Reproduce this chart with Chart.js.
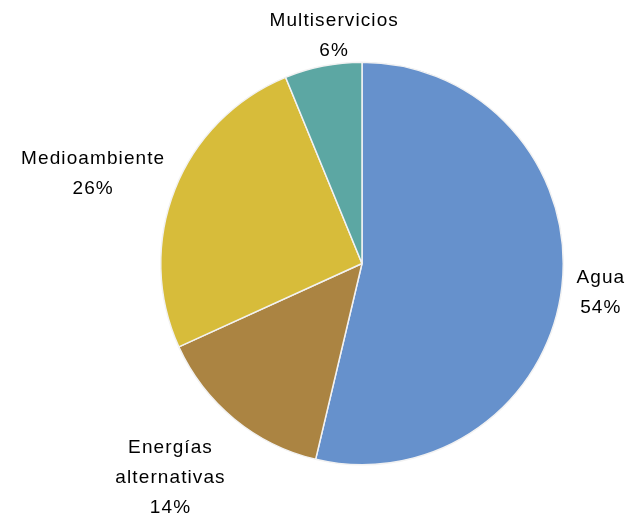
<!DOCTYPE html>
<html>
<head>
<meta charset="utf-8">
<script src="https://cdn.jsdelivr.net/npm/chart.js@4/dist/chart.umd.min.js"></script>
<style>
  html, body { margin: 0; padding: 0; background: #fff; }
  #wrap { width: 634px; height: 519px; }
</style>
</head>
<body>
<div id="wrap"><canvas id="myChart"></canvas></div>
<script>
const labels = ["Agua", "Energías alternativas", "Medioambiente", "Multiservicios"];
const labelLines = [["Agua", "54%"], ["Energías", "alternativas", "14%"], ["Medioambiente", "26%"], ["Multiservicios", "6%"]];
const values = [53.7, 14.5, 25.6, 6.2];
const colors = ["#6691CC", "#AB8442", "#D7BC3A", "#5CA7A3"];
// distance of each label centre from the pie centre (x radius), plus a small nudge
const labelDist = [1.19, 1.42, 1.41, 1.15];
const labelNudge = [[1, 1], [-10, -6], [-5, 15], [17, -1]];

const outsideLabels = {
    id: "outsideLabels",
    afterDraw(chart) {
        const c = chart.ctx;
        const meta = chart.getDatasetMeta(0);
        c.save();
        c.font = "19px 'Liberation Sans', Arial, sans-serif";
        c.letterSpacing = "1.1px";
        c.fillStyle = "#000";
        c.textAlign = "center";
        c.textBaseline = "middle";
        meta.data.forEach((arc, i) => {
            const p = arc.getProps(["x", "y", "startAngle", "endAngle", "outerRadius"], true);
            const mid = (p.startAngle + p.endAngle) / 2;
            const r = p.outerRadius * labelDist[i];
            const cx = p.x + Math.cos(mid) * r + labelNudge[i][0];
            const cy = p.y + Math.sin(mid) * r + labelNudge[i][1];
            const lines = labelLines[i];
            const lh = 30;
            lines.forEach((t, j) => {
                c.fillText(t, cx, cy + (j - (lines.length - 1) / 2) * lh);
            });
        });
        c.restore();
    },
};

new Chart(document.getElementById("myChart"), {
    type: "pie",
    data: {
        labels: labels,
        datasets: [{
            data: values,
            backgroundColor: colors,
            borderColor: "#f2f2f2",
            borderWidth: 1.5,
        }],
    },
    options: {
        responsive: true,
        maintainAspectRatio: false,
        animation: false,
        layout: {
            padding: { left: 160, right: 70, top: 61, bottom: 53 },
        },
        plugins: {
            legend: { display: false },
            tooltip: { enabled: false },
        },
    },
    plugins: [outsideLabels],
});
</script>
</body>
</html>
